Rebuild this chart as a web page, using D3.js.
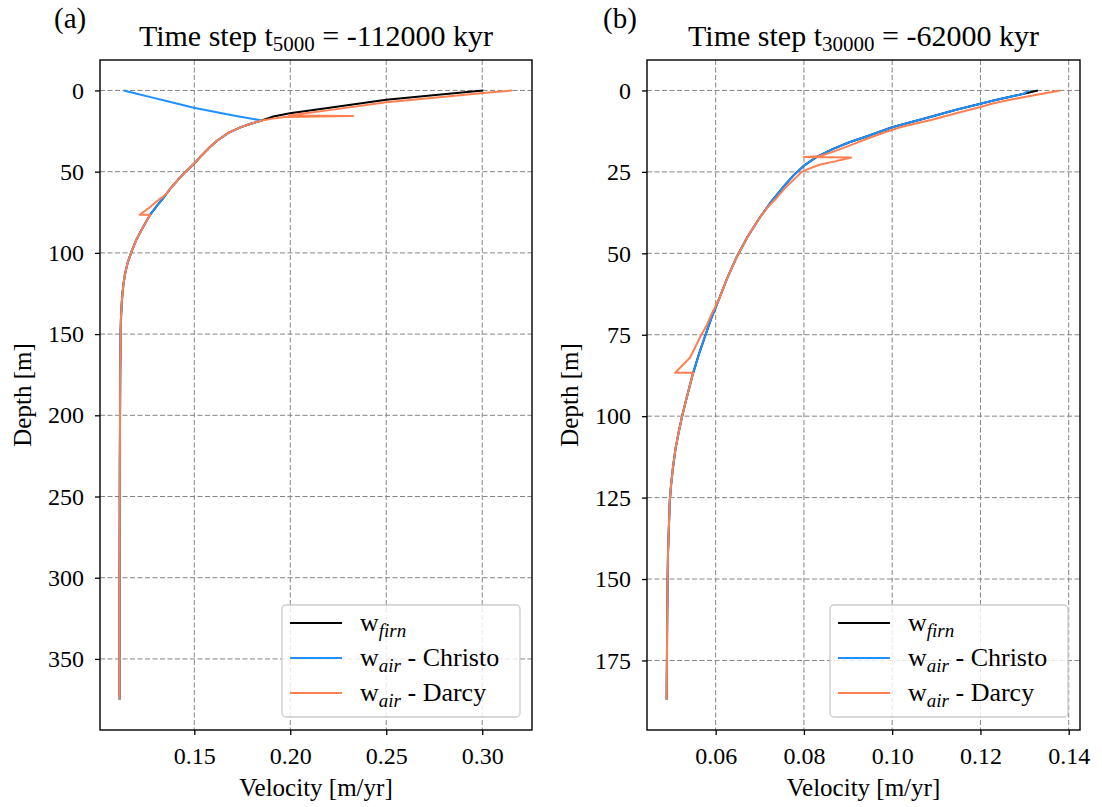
<!DOCTYPE html>
<html><head><meta charset="utf-8">
<script src="https://cdn.jsdelivr.net/npm/d3@7"></script>
<style>
body{margin:0;background:#fff}
svg{display:block}
text{font-family:"Liberation Serif","Times New Roman",serif;fill:#000}
</style>
</head><body>
<svg id="c" width="1102" height="807"></svg>
<script>
// ---------------- Panel (a): t5000 = -112000 kyr ----------------
const aFirnTopDepth = [0, 2, 5.7, 10.3, 14, 16];
const aFirnTopVel   = [0.3005, 0.2825, 0.2500, 0.2223, 0.1998, 0.1912];
const aChristoTopDepth = [0, 2, 4.1, 7, 10.7, 15.4];
const aChristoTopVel   = [0.1133, 0.1200, 0.1272, 0.1371, 0.1497, 0.1704];
const aDarcyTopDepth = [0, 1.5, 4, 7.2, 11.8, 14.6, 15.4, 15.7, 16.3, 17.5];
const aDarcyTopVel   = [0.3157, 0.3005, 0.2790, 0.2500, 0.2223, 0.2040, 0.1992, 0.2327, 0.1970, 0.1900];
const aCommonDepth = [18.5, 20.5, 22.6, 26, 30.8, 35, 40, 45, 50, 55, 60.5, 63.6, 66, 71, 76.5, 82, 87, 92.4, 99.5, 106, 113, 120, 129, 140, 150, 175, 230, 300, 375];
const aCommonVel   = [0.1851, 0.1795, 0.1743, 0.1680, 0.1620, 0.1580, 0.1538, 0.1500, 0.1455, 0.1415, 0.1375, 0.1355, 0.1340, 0.1305, 0.1270, 0.1243, 0.1220, 0.1196, 0.1172, 0.1153, 0.1139, 0.1130, 0.1123, 0.1118, 0.1116, 0.1114, 0.1112, 0.1111, 0.1111];
const aDarcyKinkDepth = [66, 69, 72.5, 76.5, 76.5];
const aDarcyKinkVel   = [0.1330, 0.1297, 0.1262, 0.1215, 0.1270];
const aXTicks = [0.15, 0.20, 0.25, 0.30];
const aYTicks = [0, 50, 100, 150, 200, 250, 300, 350];

// ---------------- Panel (b): t30000 = -62000 kyr ----------------
const bFirnDepth = [0, 1, 2, 3, 4.1, 6, 8, 11.3, 14, 15.9, 18, 20.5, 23.1, 26, 29.8, 34, 39, 45, 51.3, 58, 64.6, 70, 75.4, 81, 86.7, 95, 100, 105, 110, 116, 121, 126, 134, 142, 152, 165, 187];
const bFirnVel   = [0.1330, 0.1298, 0.1265, 0.1232, 0.1200, 0.1143, 0.1090, 0.1000, 0.0945, 0.0903, 0.0865, 0.0828, 0.0800, 0.0777, 0.0752, 0.0727, 0.0700, 0.0672, 0.0647, 0.0625, 0.0606, 0.0590, 0.0576, 0.0562, 0.0549, 0.0533, 0.0524, 0.0516, 0.0509, 0.0503, 0.0499, 0.0496, 0.0494, 0.0492, 0.0491, 0.0490, 0.0489];
const bChristoSurfaceVel = 0.1310;
const bDarcyTopDepth = [0, 1, 2, 3, 4, 5.1, 7, 9, 11.3, 13, 15, 17, 19, 20.2, 20.4, 20.6, 21.7, 22.8, 24.4, 25, 27, 30, 33, 36];
const bDarcyTopVel   = [0.1381, 0.1340, 0.1300, 0.1262, 0.1228, 0.1200, 0.1145, 0.1090, 0.1018, 0.0980, 0.0940, 0.0902, 0.0862, 0.0835, 0.0800, 0.0907, 0.0873, 0.0835, 0.0805, 0.0795, 0.0780, 0.0757, 0.0738, 0.0717];
const bDarcyKinkDepth = [68, 72, 75.4, 79, 82, 86.7, 86.7];
const bDarcyKinkVel   = [0.0593, 0.0580, 0.0566, 0.0553, 0.0542, 0.0508, 0.0549];
const bXTicks = [0.06, 0.08, 0.10, 0.12, 0.14];
const bYTicks = [0, 25, 50, 75, 100, 125, 150, 175];

const colors = {firn: "#000000", christo: "#1e90ff", darcy: "#ff7f50"};

// ---------- build series (pairs of [velocity, depth]) ----------
const zip = (d, v) => d.map((dd, i) => [v[i], dd]);
const common = zip(aCommonDepth, aCommonVel);
const aFirn = zip(aFirnTopDepth, aFirnTopVel).concat(common);
const aChristo = zip(aChristoTopDepth, aChristoTopVel).concat(common);
const aDarcy = zip(aDarcyTopDepth, aDarcyTopVel)
  .concat(common.filter(p => p[1] <= 63.6))
  .concat(zip(aDarcyKinkDepth, aDarcyKinkVel))
  .concat(common.filter(p => p[1] > 76.5));

const bFirn = zip(bFirnDepth, bFirnVel);
const bChristo = zip(bFirnDepth, [bChristoSurfaceVel].concat(bFirnVel.slice(1)));
const bDarcy = zip(bDarcyTopDepth, bDarcyTopVel)
  .concat(bFirn.filter(p => p[1] >= 39 && p[1] <= 64.6))
  .concat(zip(bDarcyKinkDepth, bDarcyKinkVel))
  .concat(bFirn.filter(p => p[1] > 86.7));

const svg = d3.select("#c");
const FONT = '"Liberation Serif","Times New Roman",serif';

function panel(cfg) {
  const {left, right, top, bottom} = cfg;
  const all = cfg.series.flatMap(s => s.data);
  const xe = d3.extent(all, p => p[0]);
  const ye = d3.extent(all, p => p[1]);
  const xp = (xe[1] - xe[0]) * 0.05, yp = (ye[1] - ye[0]) * 0.05;
  const x = d3.scaleLinear().domain([xe[0] - xp, xe[1] + xp]).range([left, right]);
  const y = d3.scaleLinear().domain([ye[0] - yp, ye[1] + yp]).range([top, bottom]);

  const g = svg.append("g");
  // grid
  g.append("g").selectAll("line").data(cfg.xTicks).join("line")
    .attr("x1", d => x(d)).attr("x2", d => x(d)).attr("y1", top).attr("y2", bottom)
    .attr("stroke", "#858585").attr("stroke-width", 1).attr("stroke-dasharray", "5,2.5");
  g.append("g").selectAll("line").data(cfg.yTicks).join("line")
    .attr("y1", d => y(d)).attr("y2", d => y(d)).attr("x1", left).attr("x2", right)
    .attr("stroke", "#858585").attr("stroke-width", 1).attr("stroke-dasharray", "5,2.5");

  // curves
  const line = d3.line().x(p => x(p[0])).y(p => y(p[1]));
  cfg.series.forEach(s => {
    g.append("path").attr("d", line(s.data)).attr("fill", "none")
      .attr("stroke", s.color).attr("stroke-width", 2).attr("stroke-linejoin", "round");
  });

  // axes
  const xa = g.append("g").attr("transform", `translate(0,${bottom})`)
    .call(d3.axisBottom(x).tickValues(cfg.xTicks).tickFormat(cfg.xFmt).tickSize(5).tickSizeOuter(0).tickPadding(12));
  const ya = g.append("g").attr("transform", `translate(${left},0)`)
    .call(d3.axisLeft(y).tickValues(cfg.yTicks).tickFormat(d3.format("d")).tickSize(5).tickSizeOuter(0).tickPadding(11));
  [xa, ya].forEach(a => {
    a.attr("font-size", null).attr("font-family", null);
    a.select(".domain").remove();
    a.selectAll(".tick line").attr("stroke", "#000").attr("stroke-width", 1.3);
    a.selectAll(".tick text").style("font-size", "24px").style("font-family", FONT).style("fill", "#000");
  });

  // frame
  g.append("rect").attr("x", left).attr("y", top).attr("width", right - left).attr("height", bottom - top)
    .attr("fill", "none").attr("stroke", "#000").attr("stroke-width", 1.4);

  // labels
  const cx = (left + right) / 2;
  g.append("text").attr("x", cx).attr("y", 796).attr("text-anchor", "middle").style("font-size", "25px")
    .text("Velocity [m/yr]");
  g.append("text").attr("transform", `translate(${cfg.ylabX},${(top + bottom) / 2}) rotate(-90)`)
    .attr("text-anchor", "middle").style("font-size", "25px").text("Depth [m]");
  const t = g.append("text").attr("x", cx).attr("y", 46).attr("text-anchor", "middle").style("font-size", "30px");
  t.append("tspan").text("Time step t");
  t.append("tspan").style("font-size", "21px").attr("dy", 5).text(cfg.sub);
  t.append("tspan").attr("dy", -5).text(cfg.rest);
  g.append("text").attr("x", cfg.tagX).attr("y", 28).style("font-size", "29px").text(cfg.tag);

  // legend
  const lw = 238, lh = 112;
  const lx = right - 12 - lw, ly = bottom - 13 - lh;
  const lg = g.append("g");
  lg.append("rect").attr("x", lx).attr("y", ly).attr("width", lw).attr("height", lh).attr("rx", 4)
    .attr("fill", "#fff").attr("fill-opacity", 0.8).attr("stroke", "#cccccc").attr("stroke-width", 1.3);
  const items = [
    {c: colors.firn, sub: "firn", tail: ""},
    {c: colors.christo, sub: "air", tail: " - Christo"},
    {c: colors.darcy, sub: "air", tail: " - Darcy"}
  ];
  items.forEach((it, i) => {
    const yy = ly + 18 + i * 35;
    lg.append("line").attr("x1", lx + 8).attr("x2", lx + 60).attr("y1", yy).attr("y2", yy)
      .attr("stroke", it.c).attr("stroke-width", 2);
    const tx = lg.append("text").attr("x", lx + 78).attr("y", yy + 8).style("font-size", "26px");
    tx.append("tspan").text("w");
    tx.append("tspan").style("font-style", "italic").style("font-size", "19px").attr("dy", 6).text(it.sub);
    if (it.tail) tx.append("tspan").attr("dy", -6).text(it.tail);
  });
}

panel({
  left: 100, right: 532, top: 60, bottom: 730,
  xTicks: aXTicks, yTicks: aYTicks, xFmt: d3.format(".2f"),
  series: [
    {data: aFirn, color: colors.firn},
    {data: aChristo, color: colors.christo},
    {data: aDarcy, color: colors.darcy}
  ],
  tag: "(a)", tagX: 54, sub: "5000", rest: " = -112000 kyr", ylabX: 31
});
panel({
  left: 647, right: 1080, top: 60, bottom: 730,
  xTicks: bXTicks, yTicks: bYTicks, xFmt: d3.format(".2f"),
  series: [
    {data: bFirn, color: colors.firn},
    {data: bChristo, color: colors.christo},
    {data: bDarcy, color: colors.darcy}
  ],
  tag: "(b)", tagX: 603, sub: "30000", rest: " = -62000 kyr", ylabX: 578
});
</script>
</body></html>
